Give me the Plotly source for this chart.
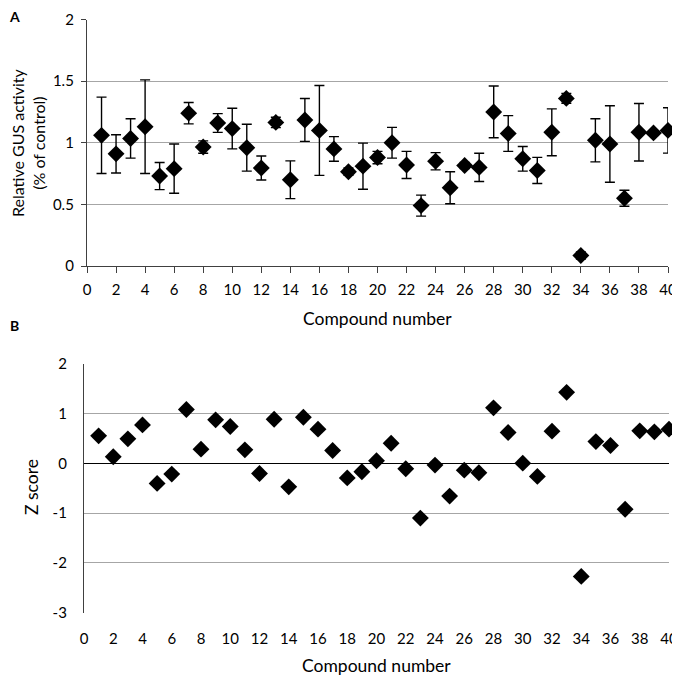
import plotly.graph_objects as go

# compound ids 1..40
compounds = list(range(1, 41))

# panel A: relative GUS activity (mean) and error (sd)
gus_mean = [1.06, 0.91, 1.035, 1.13, 0.73, 0.79, 1.24, 0.965, 1.16, 1.115,
            0.96, 0.795, 1.165, 0.70, 1.185, 1.10, 0.95, 0.765, 0.81, 0.88,
            1.00, 0.82, 0.49, 0.85, 0.635, 0.815, 0.80, 1.25, 1.075, 0.87,
            0.775, 1.085, 1.36, 0.085, 1.02, 0.99, 0.55, 1.085, 1.08, 1.10]
gus_err = [0.31, 0.155, 0.16, 0.38, 0.11, 0.20, 0.087, 0.05, 0.076, 0.165,
           0.19, 0.097, 0.042, 0.153, 0.174, 0.365, 0.10, 0.03, 0.187, 0.05,
           0.125, 0.11, 0.085, 0.07, 0.13, 0.025, 0.115, 0.21, 0.145, 0.10,
           0.106, 0.19, 0.04, 0.028, 0.175, 0.31, 0.065, 0.233, 0.015, 0.184]

# panel B: Z score
z_score = [0.555, 0.134, 0.495, 0.776, -0.40, -0.214, 1.084, 0.288, 0.877, 0.743,
           0.274, -0.20, 0.89, -0.47, 0.93, 0.69, 0.26, -0.29, -0.167, 0.054,
           0.408, -0.107, -1.098, -0.033, -0.656, -0.134, -0.187, 1.118, 0.622, 0.007,
           -0.26, 0.65, 1.43, -2.27, 0.44, 0.36, -0.92, 0.656, 0.636, 0.69]

x_ticks = list(range(0, 41, 2))
a_ticks = [0, 0.5, 1, 1.5, 2]
a_labels = ["0", "0.5", "1", "1.5", "2"]
b_ticks = [-3, -2, -1, 0, 1, 2]
b_labels = ["-3", "-2", "-1", "0", "1", "2"]

FONT = "Lato, 'Open Sans', sans-serif"
GRID = "#a6a6a6"
# page body has an 8px margin, so the figure is a bit smaller than the window
OFF = 8
W, H = 680 - OFF, 678 - OFF

fig = go.Figure()

fig.add_trace(go.Scatter(
    x=compounds, y=gus_mean, mode="markers",
    marker=dict(symbol="diamond", size=13, color="black"),
    error_y=dict(type="data", array=gus_err, visible=True,
                 color="black", thickness=1.4, width=5),
    xaxis="x", yaxis="y", showlegend=False, cliponaxis=False,
))

fig.add_trace(go.Scatter(
    x=compounds, y=z_score, mode="markers",
    marker=dict(symbol="diamond", size=13, color="black"),
    xaxis="x2", yaxis="y2", showlegend=False, cliponaxis=False,
))

# window pixel -> paper helpers
def px_x(p): return (p - OFF) / W
def px_y(p): return 1 - (p - OFF) / H

tick_font = dict(family=FONT, size=15, color="black")
title_font = dict(family=FONT, size=17.5, color="black")

fig.update_layout(
    width=W, height=H,
    margin=dict(l=0, r=0, t=0, b=0),
    paper_bgcolor="white", plot_bgcolor="white",
    font=dict(family=FONT, color="black"),
    xaxis=dict(
        domain=[px_x(87), px_x(668)], range=[0, 40], anchor="y", automargin=False,
        tickvals=x_ticks, ticks="outside", ticklen=6, tickcolor="#404040",
        showline=True, linecolor="#404040", linewidth=1.3,
        showgrid=False, zeroline=False, tickfont=tick_font, ticklabelstandoff=4,
    ),
    yaxis=dict(
        domain=[px_y(266), px_y(19.5)], range=[0, 2], anchor="x", automargin=False,
        tickvals=a_ticks, ticktext=a_labels,
        ticks="outside", ticklen=5, tickcolor="#404040",
        showline=True, linecolor="#404040", linewidth=1.3,
        showgrid=True, gridcolor=GRID, gridwidth=1.2, zeroline=False,
        tickfont=tick_font, ticklabelstandoff=4,
    ),
    xaxis2=dict(
        domain=[px_x(84), px_x(669)], range=[0, 40], anchor="y2", automargin=False,
        tickvals=x_ticks, ticks="outside", ticklen=6, tickcolor="rgba(0,0,0,0)",
        showline=False, showgrid=False, zeroline=False,
        tickfont=tick_font, ticklabelstandoff=6,
    ),
    yaxis2=dict(
        domain=[px_y(612.7), px_y(364)], range=[-3, 2], anchor="x2", automargin=False,
        tickvals=b_ticks, ticktext=b_labels, ticks="",
        showline=True, linecolor="#404040", linewidth=1.3,
        showgrid=True, gridcolor=GRID, gridwidth=1.2,
        zeroline=True, zerolinecolor="black", zerolinewidth=1.3,
        tickfont=tick_font, ticklabelstandoff=13,
    ),
)

# axis titles and panel letters
labels = [
    ("Compound number", 377, 318, 0, 17.5),
    ("Compound number", 376, 665, 0, 17.5),
    ("Relative GUS activity<br>(% of control)", 28, 143, -90, 16),
    ("Z score", 31, 487, -90, 17.5),
]
for text, lx, ly, ang, fs in labels:
    fig.add_annotation(text=text, x=px_x(lx), y=px_y(ly), xref="paper", yref="paper",
                       showarrow=False, textangle=ang,
                       font=dict(family=FONT, size=fs, color="black"),
                       xanchor="center", yanchor="middle")

for letter, lx, ly in [("A", 14, 17), ("B", 14, 325)]:
    fig.add_annotation(text=f"<b>{letter}</b>", x=px_x(lx), y=px_y(ly),
                       xref="paper", yref="paper", showarrow=False,
                       font=dict(family=FONT, size=14, color="black"),
                       xanchor="center", yanchor="middle")

fig.write_html("out.html")
